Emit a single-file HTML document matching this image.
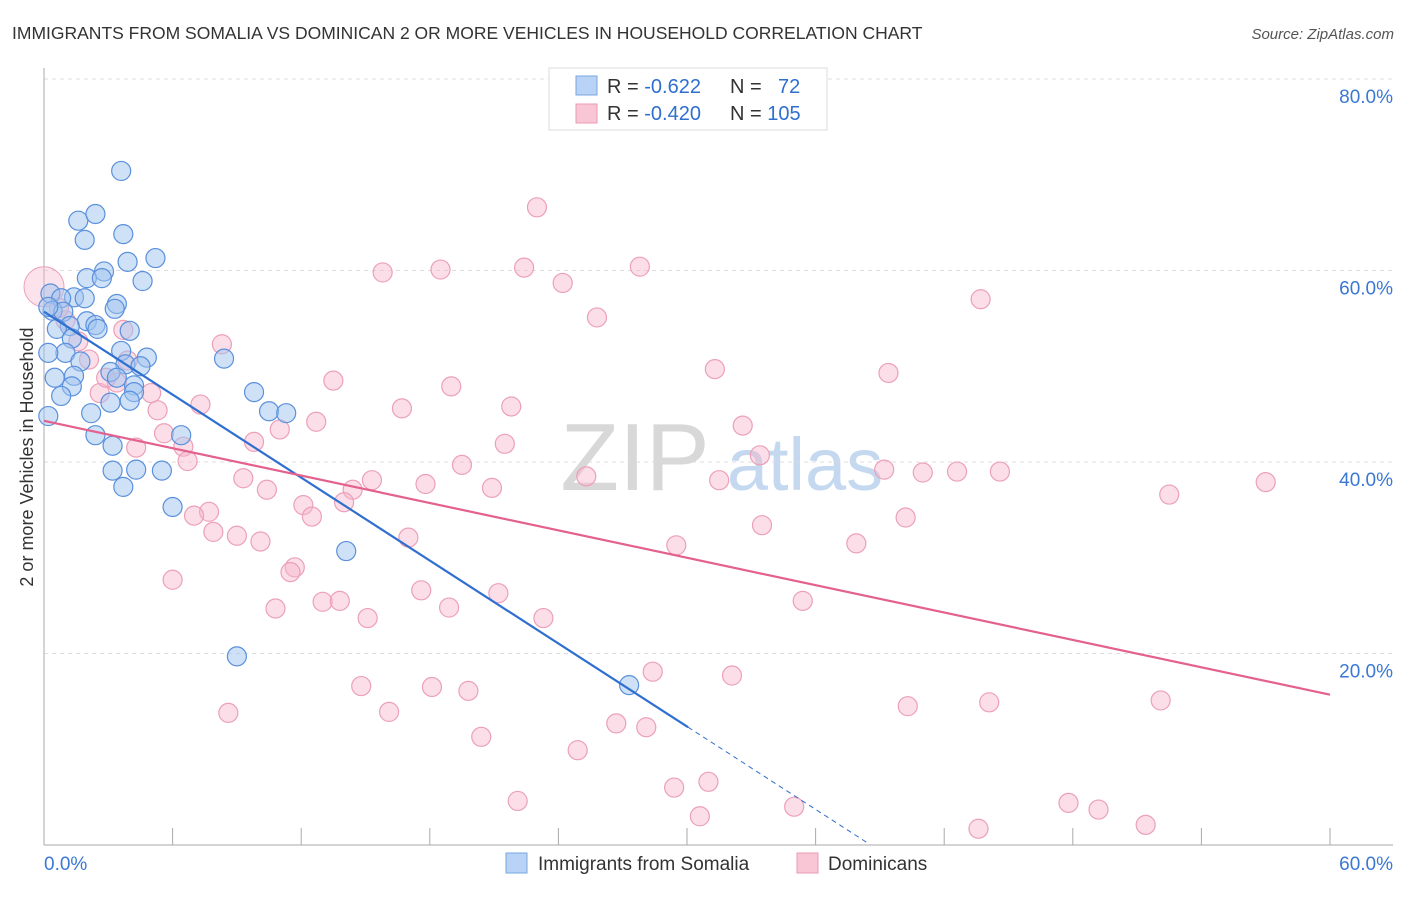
<!DOCTYPE html>
<html><head><meta charset="utf-8"><style>
body{margin:0;background:#fff;font-family:"Liberation Sans",sans-serif;}
svg text{font-family:"Liberation Sans",sans-serif;}
</style></head><body>
<svg id="chart" width="1406" height="892" viewBox="0 0 1406 892" xmlns="http://www.w3.org/2000/svg">
<text x="12" y="39" font-size="17.5" fill="#333">IMMIGRANTS FROM SOMALIA VS DOMINICAN 2 OR MORE VEHICLES IN HOUSEHOLD CORRELATION CHART</text>
<text x="1394" y="39" font-size="15" fill="#555" text-anchor="end" font-style="italic">Source: ZipAtlas.com</text>
<text x="0" y="0" font-size="18" fill="#333" text-anchor="middle" transform="translate(33,457) rotate(-90)">2 or more Vehicles in Household</text>
<g><text x="635" y="490" font-size="96" fill="#d8d8d8" text-anchor="middle" font-family="Liberation Serif">ZIP</text><text x="805" y="490" font-size="74" fill="#c4d8ef" text-anchor="middle">atlas</text></g>
<g id="grid"></g><g id="axes"></g><g id="pink"></g><g id="blue"></g><g id="trends"></g>
<g>
<rect x="549" y="68" width="278" height="62" fill="#fff" stroke="#ddd"/>
<rect x="576" y="76" width="21" height="19" fill="#b8d3f5" stroke="#7aa7e0"/>
<rect x="576" y="104" width="21" height="19" fill="#f9c6d5" stroke="#eb9ab4"/>
<text x="607" y="93" font-size="20" fill="#333">R = <tspan fill="#2f6fd0">-0.622</tspan></text>
<text x="730" y="93" font-size="20" fill="#333">N = <tspan fill="#2f6fd0" x="778">72</tspan></text>
<text x="607" y="120" font-size="20" fill="#333">R = <tspan fill="#2f6fd0">-0.420</tspan></text>
<text x="730" y="120" font-size="20" fill="#333">N = <tspan fill="#2f6fd0">105</tspan></text>
</g>
<g>
<rect x="506" y="853" width="21" height="20" fill="#b8d3f5" stroke="#7aa7e0"/>
<text x="538" y="870" font-size="19" fill="#333">Immigrants from Somalia</text>
<rect x="797" y="853" width="21" height="20" fill="#f9c6d5" stroke="#eb9ab4"/>
<text x="828" y="870" font-size="19" fill="#333">Dominicans</text>
</g>
</svg>
<script>
const xTicks=[0,6,12,18,24,30,36,42,48,54,60];
const yTicks=[20,40,60,80];
const blueX=[3.6,1.6,2.4,1.9,3.7,5.2,3.9,2.8,2.0,2.7,4.6,0.3,1.4,1.9,0.8,3.4,3.3,0.4,0.9,2.0,2.4,1.2,0.6,2.5,4.0,1.3,3.6,4.8,1.0,0.2,8.4,1.7,3.8,4.5,3.1,0.5,1.4,1.3,3.4,4.2,4.2,0.8,9.8,3.1,4.0,10.5,11.3,0.2,2.2,2.4,6.4,3.2,3.2,4.3,5.5,3.7,6.0,14.1,9.0,27.3,0.2];
const blueY=[70.4,65.2,65.9,63.2,63.8,61.3,60.9,59.9,59.2,59.2,58.9,57.6,57.2,57.1,57.1,56.5,56.0,55.8,55.7,54.7,54.3,54.2,53.9,53.9,53.7,52.9,51.6,50.9,51.4,51.4,50.8,50.5,50.2,50.0,49.4,48.8,49.0,47.9,48.8,48.0,47.3,46.9,47.3,46.2,46.4,45.3,45.1,44.8,45.1,42.8,42.8,41.7,39.1,39.2,39.1,37.4,35.3,30.7,19.7,16.7,56.2];
const pinkX=[23.0,15.8,18.5,22.4,27.8,24.2,43.7,25.8,8.3,31.3,39.4,13.5,19.0,7.3,16.7,21.8,12.7,11.0,32.6,9.8,33.4,21.5,19.5,39.2,41.0,42.6,44.6,31.5,25.3,9.3,15.3,17.8,20.9,10.4,14.4,52.5,57.0,14.0,12.1,7.7,7.0,12.5,40.2,33.5,7.9,9.0,17.0,10.1,37.9,29.5,11.7,11.5,6.0,17.6,21.2,13.0,13.8,35.4,10.8,18.9,15.1,23.3,28.4,32.1,14.8,18.1,19.8,40.3,44.1,52.1,8.6,16.1,26.7,28.1,20.4,24.9,31.0,29.4,22.1,35.0,47.8,49.2,30.6,43.6,51.4,5.3,5.0,6.5,6.7,5.6,4.3,2.6,2.9,3.9,3.7,1.6,1.0,0.7,2.1,3.4];
const pinkY=[66.6,59.8,60.1,60.3,60.4,58.7,57.0,55.1,52.3,49.7,49.3,48.5,47.9,46.0,45.6,45.8,44.2,43.4,43.8,42.1,40.7,41.9,39.7,39.2,38.9,39.0,39.0,38.1,38.5,38.3,38.1,37.7,37.3,37.1,37.1,36.6,37.9,35.8,35.5,34.8,34.4,34.3,34.2,33.4,32.7,32.3,32.1,31.7,31.5,31.3,29.0,28.5,27.7,26.6,26.3,25.4,25.5,25.5,24.7,24.8,23.7,23.7,18.1,17.7,16.6,16.5,16.1,14.5,14.9,15.1,13.8,13.9,12.7,12.3,11.3,9.9,6.6,6.0,4.6,4.0,4.4,3.7,3.0,1.7,2.1,45.4,47.2,41.6,40.1,43.0,41.5,47.2,48.8,50.6,53.8,52.6,54.8,56.1,50.7,48.3];
const blueTrend=[55.7,-1.444];
const pinkTrend=[44.3,-0.4767];
const X=v=>44+v*(1286/60);
const Y=v=>845-v*(766/80);
const NS="http://www.w3.org/2000/svg";
function mk(tag,attrs,parent){const e=document.createElementNS(NS,tag);for(const k in attrs)e.setAttribute(k,attrs[k]);parent.appendChild(e);return e;}
const grid=document.getElementById('grid'),axes=document.getElementById('axes');
yTicks.forEach(t=>{
 const l=mk('line',{x1:44,x2:1393,y1:Y(t),y2:Y(t),stroke:'#ddd','stroke-dasharray':'4,4'},grid);
 
 
 const tx=mk('text',{x:1393,y:Y(t)+24,'font-size':19,fill:'#3a78d4','text-anchor':'end'},grid);
 tx.textContent=t.toFixed(1)+'%';
 
 
});
mk('line',{x1:44,x2:1393,y1:845,y2:845,stroke:'#aaa'},axes);
mk('line',{x1:44,x2:44,y1:68,y2:845,stroke:'#aaa'},axes);
xTicks.forEach(t=>{
 const l=mk('line',{x1:X(t),x2:X(t),y1:828,y2:845,stroke:'#aaa'},axes);
 
 
});
[[0,'0.0%','start',44],[60,'60.0%','end',1393]].forEach(a=>{
 const tx=mk('text',{x:a[3],y:870,'font-size':19,fill:'#3a78d4','text-anchor':a[2]},axes);
 tx.textContent=a[1];
 
 
});
const pg=document.getElementById('pink');
pinkX.forEach((x,i)=>{
 const c=mk('circle',{cx:X(x),cy:Y(pinkY[i]),r:9.5,fill:'rgba(247,182,203,0.45)',stroke:'#eca0b9','stroke-width':1.2},pg);
 
 
});
const bigp=mk('circle',{cx:X(0),cy:Y(58.3),r:20,fill:'rgba(247,182,203,0.4)',stroke:'#eca0b9'},pg);


const bg=document.getElementById('blue');
blueX.forEach((x,i)=>{
 const c=mk('circle',{cx:X(x),cy:Y(blueY[i]),r:9.5,fill:'rgba(160,196,240,0.5)',stroke:'#5a90dc','stroke-width':1.2},bg);
 
 
});
const tg=document.getElementById('trends');
const bl=mk('line',{x1:X(0),y1:Y(blueTrend[0]),x2:X(30.05),y2:Y(blueTrend[0]+blueTrend[1]*30.05),stroke:'#2f6fd0','stroke-width':2.2},tg);


const bd=mk('line',{x1:X(30.05),y1:Y(blueTrend[0]+blueTrend[1]*30.05),x2:X(38.5),y2:Y(blueTrend[0]+blueTrend[1]*38.5),stroke:'#2f6fd0','stroke-width':1,'stroke-dasharray':'5,4'},tg);


const pl=mk('line',{x1:X(0),y1:Y(pinkTrend[0]),x2:X(60),y2:Y(pinkTrend[0]+pinkTrend[1]*60),stroke:'#e4608d','stroke-width':2.2},tg);


</script>
</body></html>
